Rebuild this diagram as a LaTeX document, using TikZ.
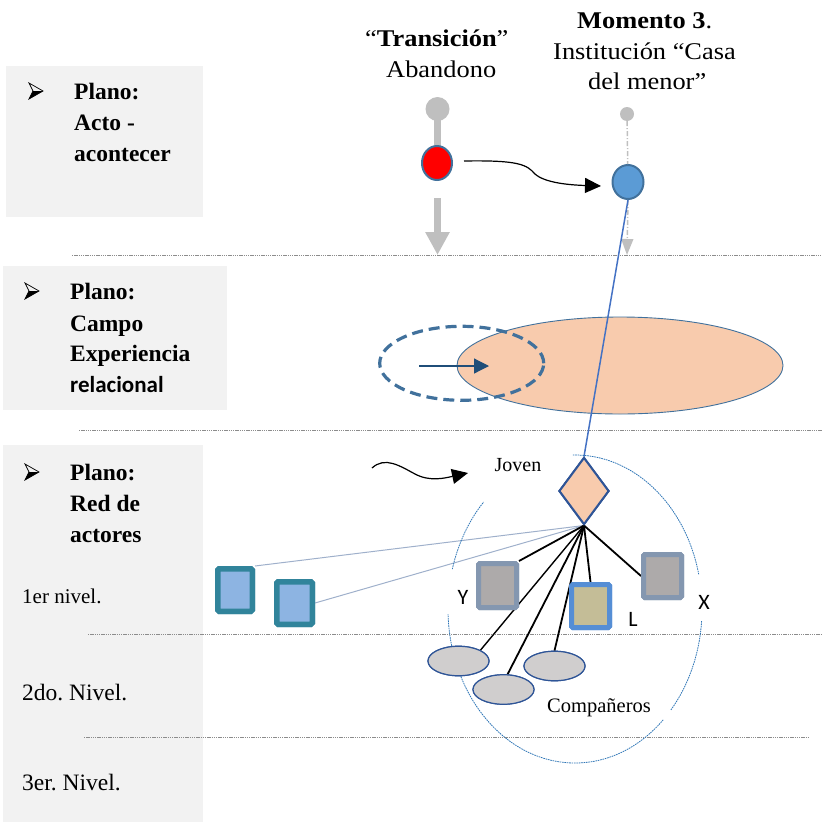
\documentclass[tikz,border=0pt]{standalone}
\usepackage{fontspec}
\setmainfont{Liberation Serif}
\newfontfamily\carl{Carlito}
\usetikzlibrary{arrows.meta,shapes.geometric}
\definecolor{boxgray}{HTML}{F2F2F2}
\definecolor{lvlline}{HTML}{8C8C8C}
\definecolor{arrgray}{HTML}{BFBFBF}
\definecolor{edgeblue}{HTML}{41719C}
\definecolor{fillblue}{HTML}{5B9BD5}
\definecolor{linkblue}{HTML}{4472C4}
\definecolor{peach}{HTML}{F8CBAD}
\definecolor{navy}{HTML}{1F4E79}
\definecolor{dkblue}{HTML}{2F5597}
\definecolor{teal}{HTML}{31849B}
\definecolor{skyfill}{HTML}{8DB4E2}
\definecolor{grayedge}{HTML}{8497B0}
\definecolor{grayfill}{HTML}{ADAAAA}
\definecolor{ledge}{HTML}{558ED5}
\definecolor{lfill}{HTML}{C4BD97}
\definecolor{compfill}{HTML}{D0CECE}
\definecolor{thinlink}{HTML}{9FB0CB}
\definecolor{ringblue}{HTML}{2E75B6}
\tikzset{
  lbl/.style={font=\fontsize{23.5}{28}\selectfont\bfseries, inner sep=0, anchor=base west},
  lvl/.style={font=\fontsize{23.5}{28}\selectfont, inner sep=0, anchor=base west},
  toplbl/.style={font=\fontsize{24}{28}\selectfont, inner sep=0, anchor=base west, xscale=1.1},
  levelline/.style={draw=lvlline, line width=0.9pt, dash pattern=on 1.3pt off 0.9pt},
  sqteal/.style={draw=teal, fill=skyfill, line width=5.5pt, rounded corners=1.5pt, inner sep=0},
  sqgray/.style={draw=grayedge, fill=grayfill, line width=5pt, rounded corners=1.5pt, inner sep=0},
  sql/.style={draw=ledge, fill=lfill, line width=5pt, rounded corners=1.5pt, inner sep=0},
  comp/.style={ellipse, draw=dkblue, fill=compfill, line width=1.2pt, minimum width=61, minimum height=29.5, inner sep=0},
  letter/.style={font=\carl\fontsize{22}{22}\selectfont, inner sep=0},
  ring/.style={draw=ringblue, line width=0.8pt, dash pattern=on 1.6pt off 0.8pt},
  tie/.style={draw=black, line width=1.8pt},
  tiethin/.style={draw=black, line width=1.4pt},
}
\newcommand\arrowbullet[2]{%
  \draw[line width=0.7pt, line join=miter] (#1-7,#2-8) -- (#1+7,#2) -- (#1-7,#2+8) -- (#1-3,#2) -- cycle;
  \fill (#1-3,#2) -- (#1+7,#2) -- (#1-7,#2+8) -- cycle;}
\frenchspacing
\begin{document}
\begin{tikzpicture}[x=1pt,y=-1pt]
\useasboundingbox (0,0) rectangle (822,822);
% left panels
\fill[boxgray] (6,66) rectangle (203,217);
\fill[boxgray] (3,266) rectangle (227,410);
\fill[boxgray] (3,445) rectangle (203,822);
% level lines
\draw[levelline] (72,255) -- (822,255);
\draw[levelline] (79,430) -- (822,430);
\draw[levelline] (88,634) -- (822,634);
\draw[levelline] (84,737) -- (808,737);
% left texts
\arrowbullet{36}{91}
\node[lbl] (p1a) at (74,99) {Plano:};
\node[lbl] (p1b) at (74,130) {Acto -};
\node[lbl] (p1c) at (74,161) {acontecer};
\arrowbullet{32}{291}
\node[lbl] (p2a) at (70,299) {Plano:};
\node[lbl] (p2b) at (70,331) {Campo};
\node[lbl] (p2c) at (70,361) {Experiencia};
\node[inner sep=0, anchor=base west, font=\carl\bfseries\fontsize{23}{28}\selectfont] (p2d) at (70,392) {relacional};
\arrowbullet{32}{472}
\node[lbl] (p3a) at (70,480) {Plano:};
\node[lbl] (p3b) at (70,511) {Red de};
\node[lbl] (p3c) at (70,542) {actores};
\node[lvl, font=\fontsize{21}{24}\selectfont] (n1) at (22,603) {1er nivel.};
\node[lvl] (n2) at (22,700) {2do. Nivel.};
\node[lvl] (n3) at (22,790) {3er. Nivel.};
% top labels
\node[toplbl] (t1) at (365,46) {“\textbf{Transición}”};
\node[toplbl] (t2) at (386,77) {Abandono};
\node[toplbl] (m1) at (577,28) {\textbf{Momento 3}.};
\node[toplbl] (m2) at (553,59) {Institución “Casa};
\node[toplbl] (m3) at (588,89) {del menor”};
% transition column
\node[circle, fill=arrgray, minimum size=24, inner sep=0] (tc) at (437.5,109) {};
\fill[arrgray] (434,109) rectangle (441,150);
\node[ellipse, draw=edgeblue, fill=red, line width=2pt, minimum width=30, minimum height=34, inner sep=0] (redE) at (437,163) {};
\coordinate (ga) at (437.5,198);
\coordinate (gb) at (437.5,255);
\draw[arrgray, line width=7pt, -{Triangle[length=23pt,width=23pt]}] (ga) -- (gb);
% momento 3 column
\node[circle, fill=arrgray, minimum size=14, inner sep=0] (sc) at (627,114) {};
\node[ellipse, draw=edgeblue, fill=fillblue, line width=2pt, minimum width=31, minimum height=34, inner sep=0] (blueE) at (628,182) {};
\coordinate (sb) at (627,255);
\draw[arrgray, line width=1.5pt, dash pattern=on 5pt off 2pt on 1pt off 2pt] (sc) -- (blueE);
\draw[arrgray, line width=1.5pt, dash pattern=on 5pt off 2pt on 1pt off 2pt, -{Triangle[length=16pt,width=12pt]}] (blueE.south) -- (sb);
% curved arrow
\coordinate (ca) at (464,161);
\coordinate (cb) at (601,186);
\draw[black, line width=1.2pt, -{Triangle[length=16pt,width=15pt]}] (ca) .. controls (520,160) and (527,165) .. (535,174) .. controls (545,183) and (570,185) .. (cb);
% experience field
\node[ellipse, draw=edgeblue, fill=peach, line width=0.9pt, minimum width=326, minimum height=97, inner sep=0] (field) at (620,365.5) {};
\node[ellipse, draw=edgeblue, line width=3.2pt, dash pattern=on 11pt off 6pt, minimum width=164, minimum height=74, inner sep=0] (prev) at (461.7,363.3) {};
\coordinate (fa) at (419,366);
\coordinate (fb) at (489,366);
\draw[navy, line width=1.2pt, -{Triangle[length=15pt,width=15pt]}] (fa) -- (fb);
% network nodes (anchors)
\node[diamond, draw=dkblue, fill=peach, line width=2pt, minimum width=50, minimum height=67, inner sep=0, aspect=0.75] (dia) at (584,491) {};
\draw[linkblue, line width=1.5pt] (blueE.south) -- (dia.north);
\node[sqteal, minimum width=34.5, minimum height=42.5] (sq1) at (235,590) {};
\node[sqteal, minimum width=35.5, minimum height=42.5] (sq2) at (294.5,603) {};
\node[sqgray, minimum width=38, minimum height=44] (sqY) at (497.5,585.5) {};
\node[sqgray, minimum width=38, minimum height=43] (sqX) at (662.5,576) {};
\node[sql, minimum width=38, minimum height=43] (sqL) at (590.5,606) {};
\node[comp] (e1) at (458.5,661) {};
\node[comp] (e2) at (503.5,689.5) {};
\node[comp] (e3) at (554.5,666) {};
% ties
\draw[thinlink, line width=1pt] (dia.south) -- (sq1.north east);
\draw[thinlink, line width=1pt] (dia.south) -- (sq2.east);
\draw[tie] (dia.south) -- (sqY.north east);
\draw[tie] (dia.south) -- (sqX.west);
\draw[tie] (dia.south) -- (sqL.north);
\draw[tiethin] (dia.south) -- (e1.north east);
\draw[tie] (dia.south) -- (e2.75);
\draw[tie] (dia.south) -- (e3.north);
% ring
\draw[ring] (575,609) ++(269:127 and 154) arc[start angle=269, end angle=347, x radius=127, y radius=154];
\draw[ring] (575,609) ++(4.5:127 and 154) arc[start angle=4.5, end angle=41, x radius=127, y radius=154];
\draw[ring] (575,609) ++(46:127 and 154) arc[start angle=46, end angle=178, x radius=127, y radius=154];
\draw[ring] (575,609) ++(195:127 and 154) arc[start angle=195, end angle=224, x radius=127, y radius=154];
% redraw nodes on top of ties and ring
\node[sqteal, minimum width=34.5, minimum height=42.5] (sq1b) at (235,590) {};
\node[sqteal, minimum width=35.5, minimum height=42.5] (sq2b) at (294.5,603) {};
\node[sqgray, minimum width=38, minimum height=44] (sqYb) at (497.5,585.5) {};
\node[sqgray, minimum width=38, minimum height=43] (sqXb) at (662.5,576) {};
\node[sql, minimum width=38, minimum height=43] (sqLb) at (590.5,606) {};
\node[comp] (e1b) at (458.5,661) {};
\node[comp] (e2b) at (503.5,689.5) {};
\node[comp] (e3b) at (554.5,666) {};
\node[diamond, draw=dkblue, fill=peach, line width=2pt, minimum width=50, minimum height=67, inner sep=0, aspect=0.75] (diab) at (584,491) {};
% labels
\node[letter] (lY) at (463,597) {Y};
\node[letter] (lL) at (633,619) {L};
\node[letter] (lX) at (704,602) {X};
\node[inner sep=0, anchor=base, font=\fontsize{20}{24}\selectfont] (jov) at (518,471) {Joven};
\node[inner sep=0, anchor=base, font=\fontsize{20.5}{24}\selectfont] (comps) at (599,712) {Compañeros};
% wavy arrow
\coordinate (wa) at (372,468);
\coordinate (wb) at (468,473);
\draw[black, line width=1.2pt, -{Triangle[length=16pt,width=15pt]}] (wa) .. controls (385,456) and (400,466) .. (415,474) .. controls (430,482) and (445,478) .. (wb);
\end{tikzpicture}
\end{document}
